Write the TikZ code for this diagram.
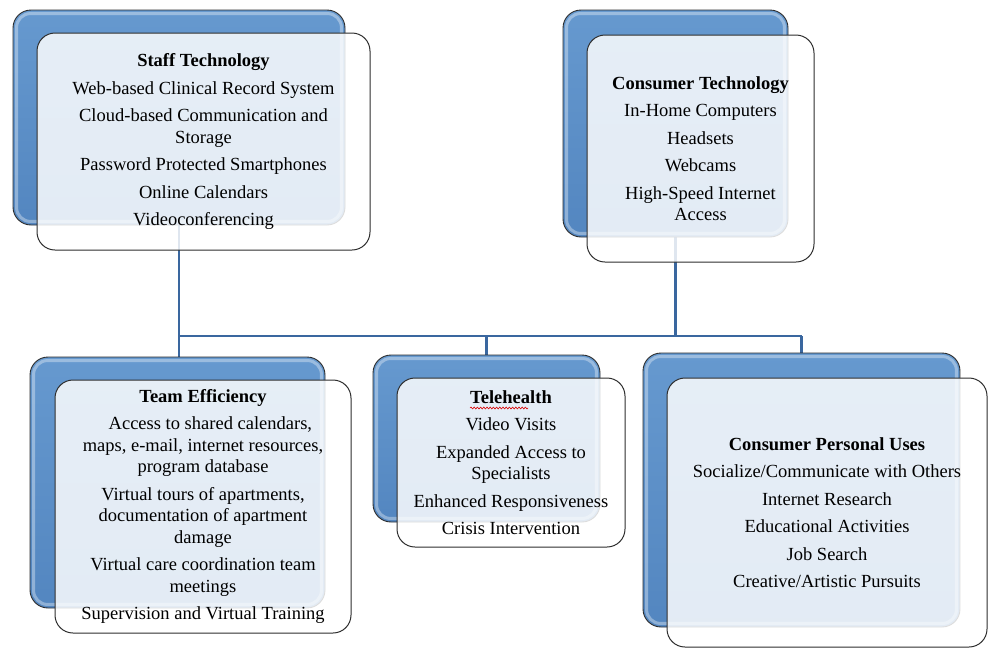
\documentclass[tikz,border=0pt]{standalone}
\usepackage{fontspec}
\setmainfont{Liberation Serif}
\usetikzlibrary{backgrounds,calc,decorations.pathmorphing}
\definecolor{blueTop}{HTML}{6699CF}
\definecolor{blueBot}{HTML}{5386C0}
\definecolor{connBlue}{HTML}{3A679F}
\definecolor{edgeGray}{HTML}{2E2E2E}
\tikzset{
  backbox/.style={rectangle, rounded corners=18pt, draw=edgeGray, line width=0.9pt,
    top color=blueTop, bottom color=blueBot, inner sep=0pt},
  frontbox/.style={rectangle, rounded corners=18pt, draw=edgeGray, line width=1pt,
    fill=white, fill opacity=0.84, text opacity=1, align=center, inner sep=0pt,
    font=\fontsize{18.5}{21.5}\selectfont},
  conn/.style={draw=connBlue, line width=2.3pt},
  shine/.style={draw=white, opacity=0.35, line width=3pt, rounded corners=14pt}
}
\newcommand{\shinebox}[1]{\draw[shine] ($(#1.south west)+(4pt,4pt)$) rectangle ($(#1.north east)+(-4pt,-4pt)$);}
\begin{document}
\begin{tikzpicture}[x=1pt,y=-1pt]
\useasboundingbox (0,0) rectangle (989,649);
\coordinate (bus) at (500,336);

% Staff Technology
\node[backbox, minimum width=332pt, minimum height=215pt] (stB) at (179,117.5) {};
\shinebox{stB}
\node[frontbox, minimum width=333pt, minimum height=217pt] (stF) at (203.5,141.5)
  {\textbf{Staff Technology}\\[6pt]
   Web-based Clinical Record System\\[6pt]
   Cloud-based Communication and\\Storage\\[6pt]
   Password Protected Smartphones\\[6pt]
   Online Calendars\\[6pt]
   Videoconferencing};

% Consumer Technology
\node[backbox, minimum width=225pt, minimum height=227pt] (ctB) at (675.5,123.5) {};
\shinebox{ctB}
\node[frontbox, minimum width=227pt, minimum height=227pt] (ctF) at (700.5,148.5)
  {\textbf{Consumer Technology}\\[6pt]
   In-Home Computers\\[6pt]
   Headsets\\[6pt]
   Webcams\\[6pt]
   High-Speed Internet\\Access};

% Team Efficiency
\node[backbox, minimum width=295pt, minimum height=251pt] (teB) at (177.5,482.5) {};
\shinebox{teB}
\node[frontbox, minimum width=296pt, minimum height=253pt] (teF) at (203,506.5)
  {\textbf{Team Efficiency}\\[6pt]
   \hspace*{0.8em}Access to shared calendars,\\
   maps, e-mail, internet resources,\\
   program database\\[6pt]
   Virtual tours of apartments,\\
   documentation of apartment\\
   damage\\[6pt]
   Virtual care coordination team\\
   meetings\\[6pt]
   Supervision and Virtual Training};

% Telehealth
\node[backbox, minimum width=227pt, minimum height=167pt] (thB) at (486.5,438.5) {};
\shinebox{thB}
\node[frontbox, minimum width=228pt, minimum height=169pt] (thF) at (511,462.5)
  {\textbf{Telehealth}\\[6pt]
   Video Visits\\[6pt]
   Expanded Access to\\Specialists\\[6pt]
   Enhanced Responsiveness\\[6pt]
   Crisis Intervention};
\draw[red!85!black, line width=0.6pt, decorate,
  decoration={snake, amplitude=0.9pt, segment length=3.2pt}] (470,408) -- (528,408);

% Consumer Personal Uses
\node[backbox, minimum width=317pt, minimum height=274pt] (puB) at (801.5,490) {};
\shinebox{puB}
\node[frontbox, minimum width=320pt, minimum height=269pt] (puF) at (827,512.5)
  {\textbf{Consumer Personal Uses}\\[6pt]
   Socialize/Communicate with Others\\[6pt]
   Internet Research\\[6pt]
   Educational Activities\\[6pt]
   Job Search\\[6pt]
   Creative/Artistic Pursuits};

% connectors
\begin{pgfonlayer}{background}
  \draw[conn] (stB.south) -- (stB.south |- teB.north);
  \draw[conn] (ctB.south) -- (ctB.south |- bus);
  \draw[conn] (stB.south |- bus) -- (puB.north |- bus);
  \draw[conn] (thB.north |- bus) -- (thB.north);
  \draw[conn] (puB.north |- bus) -- (puB.north);
\end{pgfonlayer}
\end{tikzpicture}
\end{document}
